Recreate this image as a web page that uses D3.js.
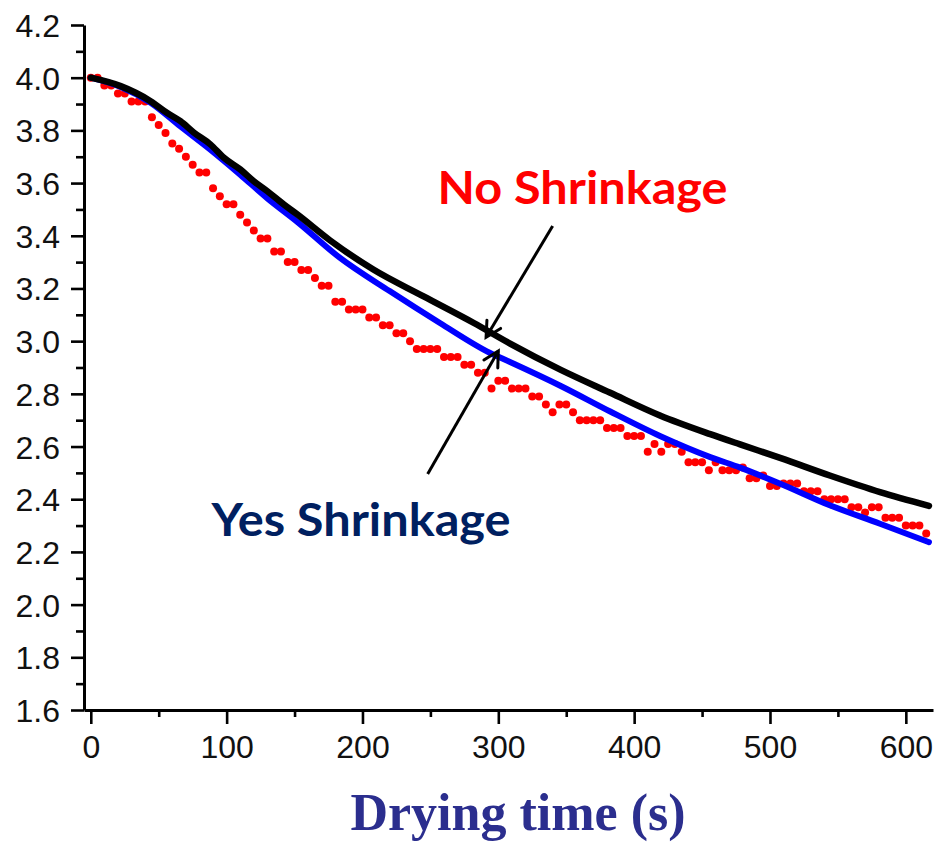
<!DOCTYPE html>
<html>
<head>
<meta charset="utf-8">
<script src="https://cdn.jsdelivr.net/npm/d3@7/dist/d3.min.js"></script>
<style>
  body { margin: 0; background: #ffffff; }
  svg { display: block; }
</style>
</head>
<body>
<svg id="chart" width="938" height="842"></svg>
<script>
// ---- axis ticks ----
const yMajorTicks = [1.6, 1.8, 2.0, 2.2, 2.4, 2.6, 2.8, 3.0, 3.2, 3.4, 3.6, 3.8, 4.0, 4.2];
const yTickLabels = ["1.6", "1.8", "2.0", "2.2", "2.4", "2.6", "2.8", "3.0", "3.2", "3.4", "3.6", "3.8", "4.0", "4.2"];
const yMinorTicks = [1.7, 1.9, 2.1, 2.3, 2.5, 2.7, 2.9, 3.1, 3.3, 3.5, 3.7, 3.9, 4.1];
const xMajorTicks = [0, 100, 200, 300, 400, 500, 600];
const xTickLabels = ["0", "100", "200", "300", "400", "500", "600"];
const xMinorTicks = [50, 150, 250, 350, 450, 550];

// ---- model curve without shrinkage (black) ----
const noShrinkTimes  = [0, 22, 44, 56, 66, 76, 88, 98, 110, 120, 130, 142, 152, 176, 208, 245, 282, 309, 346, 382, 419, 456, 478, 508, 544, 581, 617];
const noShrinkValues = [4.00, 3.968, 3.911, 3.867, 3.835, 3.791, 3.747, 3.696, 3.652, 3.607, 3.569, 3.519, 3.481, 3.383, 3.272, 3.170, 3.069, 2.990, 2.891, 2.805, 2.718, 2.647, 2.608, 2.556, 2.490, 2.427, 2.375];

// ---- model curve with shrinkage (blue) ----
const shrinkTimes  = [0, 22, 44, 66, 88, 110, 130, 152, 183, 220, 257, 294, 309, 346, 382, 419, 456, 478, 508, 544, 581, 617];
const shrinkValues = [4.00, 3.965, 3.905, 3.815, 3.727, 3.632, 3.542, 3.453, 3.318, 3.190, 3.069, 2.955, 2.920, 2.830, 2.734, 2.640, 2.560, 2.520, 2.458, 2.377, 2.307, 2.237];

// ---- measured points (red) ----
const measuredTimes = [
  0, 5, 10, 15, 20, 25, 30, 35, 40, 45, 50, 55, 60, 65, 70, 75, 80, 85, 90, 95,
  100, 105, 110, 115, 120, 125, 130, 135, 140, 145, 150, 155, 160, 165, 170, 175, 180, 185, 190, 195,
  200, 205, 210, 215, 220, 225, 230, 235, 240, 245, 250, 255, 260, 265, 270, 275, 280, 285, 290, 295,
  300, 305, 310, 315, 320, 325, 330, 335, 340, 345, 350, 355, 360, 365, 370, 375, 380, 385, 390, 395,
  400, 405, 410, 415, 420, 425, 430, 435, 440, 445, 450, 455, 460, 465, 470, 475, 480, 485, 490, 495,
  500, 505, 510, 515, 520, 525, 530, 535, 540, 545, 550, 555, 560, 565, 570, 575, 580, 585, 590, 595,
  600, 605, 610, 615
];
const measuredValues = [
  4.00, 4.00, 3.97, 3.97, 3.94, 3.94, 3.91, 3.91, 3.91, 3.85,
  3.82, 3.79, 3.75, 3.73, 3.70, 3.67, 3.64, 3.64, 3.58, 3.55,
  3.52, 3.52, 3.48, 3.45, 3.42, 3.39, 3.39, 3.34, 3.34, 3.30,
  3.30, 3.27, 3.27, 3.24, 3.21, 3.21, 3.15, 3.15, 3.12, 3.12,
  3.12, 3.09, 3.09, 3.06, 3.06, 3.03, 3.03, 3.00, 2.97, 2.97,
  2.97, 2.97, 2.94, 2.94, 2.94, 2.91, 2.91, 2.88, 2.88, 2.82,
  2.85, 2.85, 2.82, 2.82, 2.82, 2.79, 2.79, 2.76, 2.73, 2.76,
  2.76, 2.73, 2.70, 2.70, 2.70, 2.70, 2.67, 2.67, 2.67, 2.64,
  2.64, 2.64, 2.58, 2.61, 2.58, 2.61, 2.61, 2.58, 2.54, 2.54,
  2.54, 2.51, 2.54, 2.51, 2.51, 2.51, 2.52, 2.48, 2.48, 2.49,
  2.45, 2.45, 2.46, 2.46, 2.46, 2.43, 2.43, 2.43, 2.40, 2.40,
  2.40, 2.40, 2.37, 2.37, 2.35, 2.37, 2.37, 2.33, 2.33, 2.33,
  2.30, 2.30, 2.30, 2.27
];

// ---- annotations, anchored in data units (time s, value) ----
const annotationArrows = [
  { name: "no",  from: [340, 3.437], to: [291, 3.015] },
  { name: "yes", from: [248, 2.496], to: [300, 2.963] }
];
const annotationLabels = [
  { text: "No Shrinkage",  at: [362, 3.521], color: "#ff0000", width: 290 },
  { text: "Yes Shrinkage", at: [199, 2.262], color: "#002060", width: 299 }
];
const xTitle = "Drying time (s)";

// ---- drawing ----
const svg = d3.select("#chart");
const x = d3.scaleLinear().domain([-5, 620]).range([84, 933]);
const y = d3.scaleLinear().domain([1.6, 4.2]).range([710, 25]);

const tickFont = "'Liberation Sans', Arial, sans-serif";

// minor ticks
svg.append("g")
  .attr("transform", "translate(84,0)")
  .call(d3.axisLeft(y).tickValues(yMinorTicks).tickSize(8).tickSizeOuter(0).tickFormat(""))
  .call(g => g.select(".domain").remove())
  .call(g => g.selectAll("line").attr("stroke", "#000").attr("stroke-width", 2.6));
svg.append("g")
  .attr("transform", "translate(0,710)")
  .call(d3.axisBottom(x).tickValues(xMinorTicks).tickSize(7).tickSizeOuter(0).tickFormat(""))
  .call(g => g.select(".domain").remove())
  .call(g => g.selectAll("line").attr("stroke", "#000").attr("stroke-width", 2.6));

// major ticks with labels
const yAxis = svg.append("g")
  .attr("transform", "translate(84,0)")
  .call(d3.axisLeft(y).tickValues(yMajorTicks).tickSize(13).tickSizeOuter(0).tickPadding(11)
    .tickFormat((d, i) => yTickLabels[i]));
yAxis.select(".domain").attr("stroke", "#000").attr("stroke-width", 3);
yAxis.selectAll("line").attr("stroke", "#000").attr("stroke-width", 2.6);
yAxis.selectAll("text")
  .attr("font-family", tickFont).attr("font-size", 32).attr("fill", "#111")
  .attr("dy", "0.36em");

const xAxis = svg.append("g")
  .attr("transform", "translate(0,710)")
  .call(d3.axisBottom(x).tickValues(xMajorTicks).tickSize(14).tickSizeOuter(0)
    .tickFormat((d, i) => xTickLabels[i]));
xAxis.select(".domain").attr("stroke", "#000").attr("stroke-width", 3);
xAxis.selectAll("line").attr("stroke", "#000").attr("stroke-width", 2.6);
xAxis.selectAll("text")
  .attr("font-family", tickFont).attr("font-size", 32).attr("fill", "#111")
  .attr("y", 48).attr("dy", null);

// measured points
svg.append("g")
  .selectAll("circle")
  .data(measuredValues)
  .join("circle")
  .attr("cx", (d, i) => x(measuredTimes[i]))
  .attr("cy", d => y(d))
  .attr("r", 4)
  .attr("fill", "#ff0000");

// model curves
const line = d3.line().curve(d3.curveMonotoneX).x(d => x(d[0])).y(d => y(d[1]));
svg.append("path")
  .datum(d3.zip(shrinkTimes, shrinkValues))
  .attr("d", line)
  .attr("fill", "none").attr("stroke", "#0000ff").attr("stroke-width", 6)
  .attr("stroke-linecap", "round").attr("stroke-linejoin", "round");
svg.append("path")
  .datum(d3.zip(noShrinkTimes, noShrinkValues))
  .attr("d", line)
  .attr("fill", "none").attr("stroke", "#000000").attr("stroke-width", 6.5)
  .attr("stroke-linecap", "round").attr("stroke-linejoin", "round");

// arrows
const defs = svg.append("defs");
defs.append("marker")
  .attr("id", "arrowhead")
  .attr("markerUnits", "userSpaceOnUse")
  .attr("viewBox", "-18 -11 22 22")
  .attr("refX", 0).attr("refY", 0)
  .attr("markerWidth", 22).attr("markerHeight", 22)
  .attr("orient", "auto")
  .append("path")
  .attr("d", "M-15,-8 L0,0 L-15,8")
  .attr("fill", "none").attr("stroke", "#000").attr("stroke-width", 3)
  .attr("stroke-linecap", "round").attr("stroke-linejoin", "miter");

svg.append("g")
  .selectAll("line")
  .data(annotationArrows)
  .join("line")
  .attr("x1", d => x(d.from[0])).attr("y1", d => y(d.from[1]))
  .attr("x2", d => x(d.to[0])).attr("y2", d => y(d.to[1]))
  .attr("stroke", "#000").attr("stroke-width", 3)
  .attr("marker-end", "url(#arrowhead)");

// labels
svg.append("g")
  .selectAll("text")
  .data(annotationLabels)
  .join("text")
  .attr("x", d => x(d.at[0])).attr("y", d => y(d.at[1]))
  .attr("text-anchor", "middle")
  .attr("font-family", "Lato, 'Open Sans', sans-serif")
  .attr("font-weight", 700)
  .attr("font-size", 45)
  .attr("fill", d => d.color)
  .attr("textLength", d => d.width)
  .attr("lengthAdjust", "spacingAndGlyphs")
  .text(d => d.text);

// x axis title
svg.append("text")
  .attr("x", 518).attr("y", 830)
  .attr("text-anchor", "middle")
  .attr("font-family", "'Liberation Serif', 'Times New Roman', serif")
  .attr("font-weight", 700)
  .attr("font-size", 52)
  .attr("fill", "#2b2e8e")
  .text(xTitle);
</script>
</body>
</html>
